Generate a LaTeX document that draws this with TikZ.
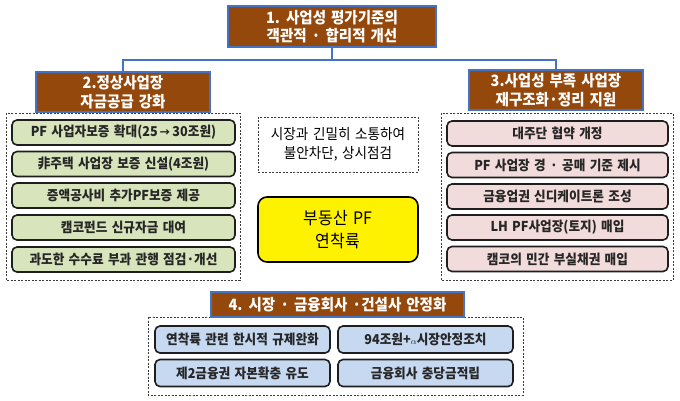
\documentclass[tikz,border=0pt]{standalone}
\usepackage{fontspec}
\setmainfont{Noto Sans CJK KR}[WordSpace=1.5, FakeStretch=0.93]
\usetikzlibrary{positioning}
\definecolor{hdrbrown}{RGB}{148,72,12}
\definecolor{hdrblue}{RGB}{68,114,196}
\definecolor{grnfill}{RGB}{216,228,188}
\definecolor{pnkfill}{RGB}{242,220,219}
\definecolor{blufill}{RGB}{198,217,241}
\definecolor{itemline}{RGB}{30,30,30}
\definecolor{frameline}{RGB}{60,60,60}
\tikzset{
  hdr/.style={draw=hdrblue, line width=1.2pt, fill=hdrbrown, text=white, align=center,
    font=\bfseries\fontsize{15.6}{18.5}\selectfont, inner sep=0pt},
  itembox/.style={draw=itemline, line width=1.6pt, rounded corners=5pt, align=center,
    font=\bfseries\fontsize{13.6}{15}\selectfont, text=black!85, inner sep=0pt,
    minimum height=25pt},
  grn/.style={itembox, fill=grnfill, minimum width=223pt},
  pnk/.style={itembox, fill=pnkfill, minimum width=221pt},
  blu/.style={itembox, fill=blufill, minimum width=175pt, minimum height=27pt},
  frame/.style={draw=frameline, line width=0.9pt, dash pattern=on 2pt off 1.5pt},
  conn/.style={draw=hdrblue, line width=1.2pt},
}
\newcommand{\arr}{{\fontsize{11}{11}\selectfont →}}
\begin{document}
\begin{tikzpicture}[x=1pt,y=-1pt]
\useasboundingbox[fill=white] (0,0) rectangle (680,400);
% frames
\draw[frame] (6,113) rectangle (240,280);
\draw[frame] (441,113) rectangle (673,280);
\draw[frame] (148,317) rectangle (523,395);
% headers
\node[hdr, minimum width=208pt, minimum height=41pt] (h1) at (332,26.5) {1. 사업성 평가기준의\\객관적 · 합리적 개선};
\node[hdr, minimum width=174pt, minimum height=40pt] (h2) at (123,92) {2.정상사업장\\자금공급 강화};
\node[hdr, minimum width=174pt, minimum height=40pt] (h3) at (556,90) {3.사업성 부족 사업장\\재구조화·정리 지원};
\node[hdr, minimum width=253pt, minimum height=25pt] (h4) at (337.5,304.5) {4. 시장 · 금융회사 ·건설사 안정화};
% connectors
\coordinate (bus) at (332,60);
\draw[conn] (h1.south) -- (bus) -| (h2.north);
\draw[conn] (bus) -| (h3.north);
% green items
\node[grn] (g1) at (123.5,132.5) {PF 사업자보증 확대(25\,\arr\,30조원)};
\node[grn] (g2) at (123.5,164) {非주택 사업장 보증 신설(4조원)};
\node[grn] (g3) at (123.5,195.5) {증액공사비 추가PF보증 제공};
\node[grn] (g4) at (123.5,227.5) {캠코펀드 신규자금 대여};
\node[grn] (g5) at (123.5,259.5) {과도한 수수료 부과 관행 점검·개선};
% pink items
\node[pnk] (p1) at (557.5,133.5) {대주단 협약 개정};
\node[pnk] (p2) at (557.5,165) {PF 사업장 경 · 공매 기준 제시};
\node[pnk] (p3) at (557.5,196.5) {금융업권 신디케이트론 조성};
\node[pnk] (p4) at (557.5,227.5) {LH PF사업장(토지) 매입};
\node[pnk] (p5) at (557.5,259) {캠코의 민간 부실채권 매입};
% middle
\node[frame, minimum width=160pt, minimum height=55pt, align=center,
  font=\fontsize{14.6}{19}\selectfont, inner sep=0pt] (mid) at (338,144.5)
  {시장과 긴밀히 소통하여\\불안차단, 상시점검};
\node[draw=black, line width=1.6pt, fill=yellow, rounded corners=9pt,
  minimum width=160pt, minimum height=65pt, align=center,
  font=\fontsize{17.2}{23}\selectfont, inner sep=0pt] (core) at (338,229.5)
  {부동산 PF\\연착륙};
% blue items
\node[blu] (b1) at (242.5,339.5) {연착륙 관련 한시적 규제완화};
\node[blu] (b2) at (242.5,373) {제2금융권 자본확충 유도};
\node[blu] (b3) at (425.5,339.5) {94조원+{\small$\alpha$}시장안정조치};
\node[blu] (b4) at (425.5,373) {금융회사 충당금적립};
\end{tikzpicture}
\end{document}
